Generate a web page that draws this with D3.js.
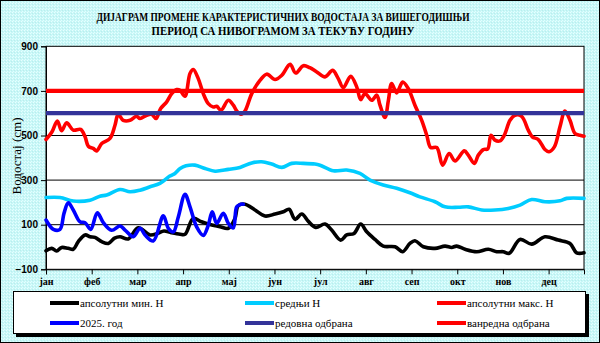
<!DOCTYPE html>
<html><head><meta charset="utf-8">
<script src="https://cdn.jsdelivr.net/npm/d3@7/dist/d3.min.js"></script>
<style>body{margin:0;background:#fff}svg{display:block}</style>
</head><body><svg id="c" width="600" height="343"></svg>
<script>
// ---- data (day of year, water level in cm) ----
const months = ["јан","феб","мар","апр","мај","јун","јул","авг","сеп","окт","нов","дец"];
const yTicks = [-100,100,300,500,700,900];
const gridValues = [100,300,500,700];
const regularDefense = 600;
const emergencyDefense = 700;

const minH = [[0,-17],[3.9,-6],[7.2,-18],[10.6,-2],[15.1,-6],[18.5,-10],[21.9,24],[26.5,54],[29.9,46],[33.2,43],[37.8,24],[42.3,16],[46.5,40],[50.2,46],[55.8,36],[62.6,86],[70.6,54],[76,62],[80,72],[85,64],[91,57],[94.3,57],[99.9,128],[105.5,113],[111.3,101],[118,91],[123.7,84],[128.2,128],[130.4,185],[135,192],[141.8,166],[148.6,139],[155.4,148],[161,158],[164.9,169],[169,124],[173.5,148],[178,115],[183,88],[189.3,103],[193.8,76],[199.9,31],[204,54],[209,61],[213.5,103],[217.6,68],[223.2,34],[228.8,4],[236.8,1],[242,-21],[246.9,16],[250.3,28],[256,1],[263.9,-6],[270.7,4],[275.2,-2],[278.6,4],[284.3,-10],[292.2,-21],[300.1,-10],[305.8,-21],[310.2,-21],[314.3,-28],[321.6,34],[329.5,13],[338.5,46],[347.6,31],[355.5,16],[360,-26],[365,-26]];

const meanH = [[0,222],[9.5,222],[18.5,206],[29.9,210],[36.6,228],[41.2,233],[50.2,258],[57,248],[63.8,255],[70.6,270],[77.3,285],[84,318],[87.5,330],[91,352],[95,364],[101,367],[107.9,352],[114.7,340],[123.7,348],[131.6,357],[139.6,377],[146.3,382],[153.1,372],[160,357],[166.7,375],[174.6,375],[182.5,372],[185.9,367],[195,342],[204,345],[213,330],[219.8,300],[228.8,278],[237.9,263],[246.9,243],[253.7,225],[263.9,203],[270.7,180],[279.7,178],[286.5,180],[295.6,166],[304.6,166],[313.6,173],[321.6,188],[329.5,213],[338.5,203],[348.7,207],[353.3,218],[365,218]];

const maxH = [[0,482],[4,516],[7.7,565],[10.6,521],[14,557],[18.5,524],[23.5,527],[26.5,494],[28.7,452],[32,442],[34.4,431],[37.8,464],[43.4,487],[46.8,546],[49,595],[52.4,568],[57,568],[61.5,586],[63.8,576],[68.3,591],[71.7,595],[74.6,576],[77.8,621],[81.9,651],[85.3,688],[88.7,706],[90.9,703],[94.3,676],[97.7,778],[99.9,796],[103.3,755],[106.7,688],[110.1,643],[113.5,628],[115.8,631],[118.7,613],[123.7,658],[127.1,636],[129.4,610],[132.3,595],[135,610],[139.6,688],[145.3,748],[149.7,775],[155.4,751],[160,770],[165.6,819],[169.4,780],[174.6,813],[179,804],[183.7,785],[189.3,763],[194.5,792],[198.3,755],[201.7,715],[206.7,766],[210.8,718],[213.5,661],[216.4,688],[221,658],[224.4,681],[226.6,636],[230,581],[232.3,658],[234.5,733],[237.9,691],[242,740],[245.8,710],[250.3,636],[254.9,568],[258.3,501],[261,446],[265.1,446],[269.1,367],[273.5,419],[277.5,386],[283.8,431],[286.5,412],[290.6,375],[293.3,412],[296.7,437],[299.7,440],[301.9,501],[304.6,479],[308,476],[310.9,501],[314.8,568],[318.2,591],[322.7,586],[327.2,524],[329.9,494],[334,482],[338.5,437],[341.2,427],[344.9,449],[348.7,539],[352.1,610],[355.5,568],[358.9,509],[362.3,501],[365,497]];

const cur2025 = [[0,121],[5,79],[9.5,79],[12.2,151],[15.1,198],[18.5,166],[23.1,113],[26.5,109],[30.3,79],[34.8,153],[38.9,109],[44.5,75],[50.2,94],[53.6,76],[59.2,46],[63.8,84],[67.2,54],[72.8,27],[79.6,140],[83,84],[86.4,68],[89.8,136],[94.3,236],[97.7,180],[102.2,90],[106.7,52],[110.1,98],[112.8,158],[115.8,106],[120.3,151],[123.7,106],[127.1,86],[129.4,180],[132.3,192],[133.9,192]];

const titleLines = ["ДИЈАГРАМ ПРОМЕНЕ КАРАКТЕРИСТИЧНИХ ВОДОСТАЈА ЗА ВИШЕГОДИШЊИ","ПЕРИОД СА НИВОГРАМОМ ЗА ТЕКУЋУ ГОДИНУ"];
const legendItems = [
  {label:"апсолутни мин. H", color:"#000000"},
  {label:"средњи H", color:"#00CCFF"},
  {label:"апсолутни макс. H", color:"#FF0000"},
  {label:"2025. год", color:"#0000FF"},
  {label:"редовна одбрана", color:"#333399"},
  {label:"ванредна одбрана", color:"#FF0000"}
];

// ---- drawing ----
const svg = d3.select("#c");
const defs = svg.append("defs");
const pat = defs.append("pattern").attr("id","tex").attr("width",3).attr("height",3).attr("patternUnits","userSpaceOnUse");
pat.append("rect").attr("width",3).attr("height",3).attr("fill","#C8F7F7");
pat.append("rect").attr("x",0).attr("y",0).attr("width",1).attr("height",1).attr("fill","#E8FFFF");
pat.append("rect").attr("x",2).attr("y",1).attr("width",1).attr("height",1).attr("fill","#B8EEEE");
pat.append("rect").attr("x",1).attr("y",2).attr("width",1).attr("height",1).attr("fill","#E0FFFF");

svg.append("rect").attr("x",0.5).attr("y",0.5).attr("width",599).attr("height",342)
  .attr("fill","url(#tex)").attr("stroke","#000").attr("stroke-width",1);

const L = 46, R = 584, T = 46.3, B = 269.3;
const x = d3.scaleLinear().domain([0,365]).range([L,R]);
const y = d3.scaleLinear().domain([-100,900]).range([B,T]);

svg.append("rect").attr("x",L).attr("y",T).attr("width",R-L).attr("height",B-T)
  .attr("fill","#fff").attr("stroke","#000").attr("stroke-width",1);

svg.append("g").selectAll("line").data(gridValues).join("line")
  .attr("x1",L).attr("x2",R).attr("y1",d=>y(d)).attr("y2",d=>y(d))
  .attr("stroke","#000").attr("stroke-width",1);

// axes
const ya = svg.append("g").attr("transform",`translate(${L},0)`)
  .call(d3.axisLeft(y).tickValues(yTicks).tickSize(5).tickPadding(3).tickFormat(d3.format("d")));
ya.selectAll("text").attr("font-family","Liberation Sans, Arial, sans-serif").attr("font-size",10).attr("font-weight","bold").attr("fill","#000");
ya.selectAll("line,path").attr("stroke","#000");

const xa = svg.append("g").attr("transform",`translate(0,${B})`)
  .call(d3.axisBottom(x).tickValues(months.map((m,i)=>i*31)).tickFormat((d,i)=>months[i]).tickSize(5).tickPadding(4));
xa.selectAll("text").attr("font-family","Liberation Serif, Times New Roman, serif").attr("font-size",10).attr("font-weight","bold").attr("fill","#000");
xa.selectAll("line,path").attr("stroke","#000");

// series
const line = d3.line().x(d=>x(d[0])).y(d=>y(d[1])).curve(d3.curveCatmullRom.alpha(0.5));
const g = svg.append("g").attr("fill","none").attr("stroke-linejoin","round").attr("stroke-linecap","round");
[[minH,"#000000"],[meanH,"#00CCFF"],[maxH,"#FF0000"],[cur2025,"#0000FF"]].forEach(([d,c])=>{
  g.append("path").datum(d).attr("d",line).attr("stroke",c).attr("stroke-width",3.6);
});
[[regularDefense,"#333399"],[emergencyDefense,"#FF0000"]].forEach(([v,c])=>{
  g.append("line").attr("x1",L).attr("x2",R).attr("y1",y(v)).attr("y2",y(v)).attr("stroke",c).attr("stroke-width",4.2).attr("stroke-linecap","butt");
});

// title
svg.append("g").selectAll("text").data(titleLines).join("text")
  .attr("x",283).attr("y",(d,i)=>21+i*14).attr("text-anchor","middle")
  .attr("font-family","Liberation Serif, Times New Roman, serif").attr("font-weight","bold").attr("font-size",11.5)
  .attr("textLength",(d,i)=>i===0?373:263).attr("lengthAdjust","spacingAndGlyphs")
  .text(d=>d);

// y title
svg.append("text").attr("transform","translate(21,156) rotate(-90)").attr("text-anchor","middle")
  .attr("font-family","Liberation Serif, Times New Roman, serif").attr("font-size",13).text("Водостај (cm)");

// legend
svg.append("rect").attr("x",16).attr("y",294).attr("width",573).attr("height",43).attr("fill","#000");
svg.append("rect").attr("x",13.5).attr("y",291.5).attr("width",572).attr("height",42).attr("fill","#fff").attr("stroke","#000");
const colX = [50,245,437], rowY = [303,323];
const lg = svg.append("g").selectAll("g").data(legendItems).join("g")
  .attr("transform",(d,i)=>`translate(${colX[i%3]},${rowY[Math.floor(i/3)]})`);
lg.append("line").attr("x1",0).attr("x2",29).attr("stroke",d=>d.color).attr("stroke-width",4);
lg.append("text").attr("x",30).attr("dy","0.35em").attr("font-family","Liberation Serif, Times New Roman, serif")
  .attr("font-size",11).text(d=>d.label);
</script></body></html>
